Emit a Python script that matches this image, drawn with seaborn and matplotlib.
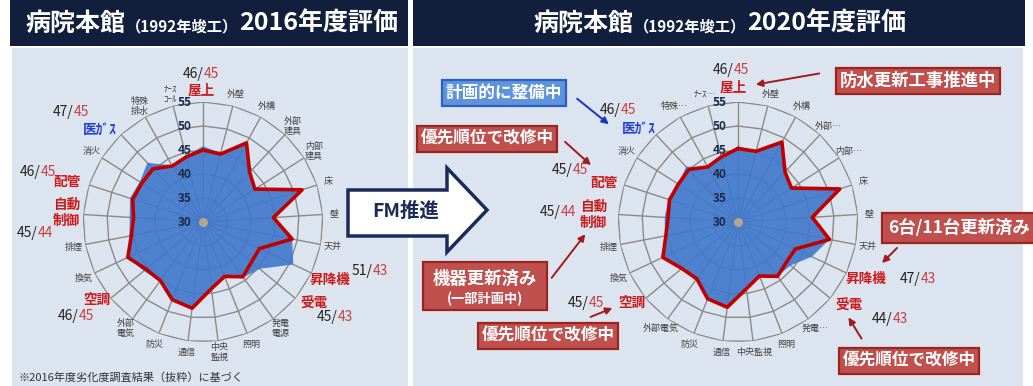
import numpy as np
import pandas as pd
import matplotlib
matplotlib.use("Agg")
import matplotlib.pyplot as plt
import seaborn as sns
from matplotlib.patches import Rectangle, Polygon, FancyArrowPatch

# ---------------- data ----------------
categories = ["屋上", "外壁", "外構", "外部建具", "内部建具", "床", "壁", "天井", "昇降機", "受電",
              "発電電源", "照明", "中央監視", "通信", "防災", "外部電気", "空調", "換気", "排煙",
              "自動制御", "配管", "消火", "医ガス", "特殊排水", "ナースコール"]
axis_labels_2016 = ["", "外壁", "外構", "外部\n建具", "内部\n建具", "床", "壁", "天井", "", "",
                    "発電\n電源", "照明", "中央\n監視", "通信", "防災", "外部\n電気", "", "換気", "排煙",
                    "", "", "消火", "", "特殊\n排水", "ﾅｰｽ\nｺｰﾙ"]
axis_labels_2020 = ["", "外壁", "外構", "外部…", "内部…", "床", "壁", "天井", "", "",
                    "発電…", "照明", "中央監視", "通信", "防災", "外部電気", "", "換気", "排煙",
                    "", "", "消火", "", "特殊…", "ﾅｰｽ…"]

eval_2016 = [45.8, 44.8, 48.8, 44.2, 42.8, 51.7, 44.7, 48.9, 50.8, 45.3, 44.3, 42.2, 44.0, 48.1, 47.4,
             45.3, 46.0, 47.3, 45.6, 45.3, 46.0, 45.6, 46.9, 43.5, 44.2]
std_2016 = [45.0, 44.6, 48.8, 44.2, 42.8, 51.7, 44.7, 48.9, 43.0, 43.1, 44.1, 42.2, 44.0, 48.1, 47.4,
            45.1, 45.4, 47.3, 45.2, 44.5, 45.4, 45.1, 45.2, 43.3, 44.0]
eval_2020 = [45.8, 45.3, 49.0, 44.3, 43.2, 52.3, 45.5, 49.4, 47.0, 44.2, 44.0, 42.1, 44.0, 47.9, 47.2,
             44.6, 45.3, 47.3, 45.5, 45.3, 45.2, 44.7, 45.8, 43.1, 44.0]
std_2020 = [45.3, 45.2, 49.0, 44.3, 43.2, 52.3, 45.5, 49.4, 43.2, 43.1, 44.0, 42.1, 44.0, 47.9, 47.2,
            44.6, 45.2, 47.3, 45.3, 44.6, 45.0, 44.7, 45.0, 43.1, 44.0]
r_ticks = [30, 35, 40, 45, 50, 55]

# highlighted items: label, evaluation, standard
hl_names = ["屋上", "医ｶﾞｽ", "配管", "自動\n制御", "空調", "昇降機", "受電"]
hl_eval_2016 = [46, 47, 46, 45, 46, 51, 45]
hl_std_2016 = [45, 45, 45, 44, 45, 43, 43]
hl_eval_2020 = [46, 46, 45, 45, 45, 47, 44]
hl_std_2020 = [45, 45, 45, 44, 45, 43, 43]

notes_text = ["計画的に整備中", "優先順位で改修中", "機器更新済み", "(一部計画中)", "優先順位で改修中",
              "防水更新工事推進中", "6台/11台更新済み", "優先順位で改修中"]

# ---------------- style ----------------
sns.set_theme(style="white")
plt.rcParams["font.family"] = ["Noto Sans CJK JP", "DejaVu Sans"]

W, H = 1033, 386
NAVY = "#111f3d"
PANEL = "#dce4f0"
GRID = "#8a8a8a"
BLUE = "#3f78cc"
RED_LINE = "#c00000"
RED_LBL = "#cc1a1a"
RED_NUM = "#c8403f"
BLUE_LBL = "#1f3fd0"
DARK = "#222222"
RED_BOX, RED_EDGE = "#c0504d", "#9b2320"

fig = plt.figure(figsize=(W / 100, H / 100), dpi=100)
fig.patch.set_facecolor("white")
renderer = fig.canvas.get_renderer()


def fx(x):
    return x / W


def fy(y):
    return 1 - y / H


def rect(x0, y0, x1, y1, **kw):
    r = Rectangle((fx(x0), fy(y1)), (x1 - x0) / W, (y1 - y0) / H, transform=fig.transFigure, **kw)
    fig.add_artist(r)
    return r


def txt(x, y, s, **kw):
    return fig.text(fx(x), fy(y), s, **kw)


def pair(x, y, a, b, size=10):
    t = txt(x, y, f"{a}/", color=DARK, fontsize=size, ha="left", va="center", zorder=6)
    bb = t.get_window_extent(renderer)
    fig.text(bb.x1 / fig.bbox.width, fy(y), f"{b}", color=RED_NUM, fontsize=size,
             ha="left", va="center", zorder=6)


def header(x0, y, parts):
    x = x0
    for s, size in parts:
        t = txt(x, y, s, color="white", fontsize=size, fontweight="bold", ha="left",
                va="baseline", zorder=6)
        bb = t.get_window_extent(renderer)
        x = bb.x1 * W / fig.bbox.width + 1


def arrow(x0, y0, x1, y1, color):
    a = FancyArrowPatch((fx(x0), fy(y0)), (fx(x1), fy(y1)), transform=fig.transFigure,
                        arrowstyle="-|>", mutation_scale=10, lw=1.4, color=color, zorder=7)
    fig.add_artist(a)


def note(x, y, s, fc, ec, size=12, ha="center"):
    txt(x, y, s, color="white", fontsize=size, fontweight="bold", ha=ha, va="center", zorder=8,
        bbox=dict(boxstyle="square,pad=0.22", fc=fc, ec=ec, lw=1.6))


# ---------------- backgrounds ----------------
rect(12, 48, 408, 386, fc=PANEL, ec="none", zorder=-10)
rect(413, 48, 1023, 386, fc=PANEL, ec="none", zorder=-10)
rect(10, 0, 408, 46, fc=NAVY, ec="none", zorder=-9)
rect(413, 0, 1025, 46, fc=NAVY, ec="none", zorder=-9)

header(25, 31, [("病院本館", 18), ("（1992年竣工）", 11), ("2016年度評価", 18)])
header(533, 31, [("病院本館", 18), ("（1992年竣工）", 11), ("2020年度評価", 18)])

txt(18, 378, "※2016年度劣化度調査結果（抜粋）に基づく", color="#333333", fontsize=8, ha="left",
    va="center")


# ---------------- radar charts ----------------
def radar(cx, cy, eva, std, labels):
    R = 120
    ax = fig.add_axes([(cx - R) / W, (H - cy - R) / H, 2 * R / W, 2 * R / H], projection="polar")
    ax.set_theta_zero_location("N")
    ax.set_theta_direction(-1)
    ax.set_axis_off()
    n = len(categories)
    theta = np.arange(n) * 2 * np.pi / n
    tc = np.append(theta, theta[0])
    for r in r_ticks[1:]:
        ax.plot(tc, [r] * (n + 1), color=GRID, lw=1.0, zorder=1)
    for t in theta:
        ax.plot([t, t], [r_ticks[0], r_ticks[-1]], color=GRID, lw=1.0, zorder=1)
    ax.fill(tc, np.append(eva, eva[0]), color=BLUE, alpha=0.9, lw=0, zorder=2)
    df = pd.DataFrame({"theta": tc, "value": np.append(std, std[0])})
    sns.lineplot(data=df, x="theta", y="value", sort=False, estimator=None, color=RED_LINE,
                 linewidth=2.6, ax=ax, zorder=3)
    ax.scatter([0], [r_ticks[0]], s=30, color="#b3a68e", zorder=4)
    for r in r_ticks:
        ax.annotate(str(r), (0, r), xytext=(-8, 0), textcoords="offset points", ha="right",
                    va="center", fontsize=8.5, fontweight="bold", color="#1c2b4a", zorder=5)
    for t, lab in zip(theta, labels):
        if lab:
            ax.text(t, 57.4, lab, ha="center", va="center", fontsize=6.5, color="#444444",
                    linespacing=1.1)
    ax.set_ylim(r_ticks[0], r_ticks[-1])
    ax.set_xlabel("")
    ax.set_ylabel("")
    return ax


radar(203, 222, eval_2016, std_2016, axis_labels_2016)
radar(738, 222, eval_2020, std_2020, axis_labels_2020)

# highlighted labels (layout positions)
name_pos_2016 = [(188, 91), (83, 130), (53, 182), (53, 213), (83, 300), (309, 280), (300, 304)]
val_pos_2016 = [(183, 74), (53, 112), (20, 172), (17, 233), (58, 316), (352, 271), (317, 317)]
name_pos_2020 = [(720, 88), (622, 129), (590, 183), (580, 215), (618, 303), (845, 279), (835, 306)]
val_pos_2020 = [(713, 70), (600, 110), (552, 170), (540, 212), (568, 303), (900, 279), (872, 319)]

for names, npos, vpos, ev, sd in [(hl_names, name_pos_2016, val_pos_2016, hl_eval_2016, hl_std_2016),
                                  (hl_names, name_pos_2020, val_pos_2020, hl_eval_2020, hl_std_2020)]:
    for nm, (nx, ny), (vx, vy), a, b in zip(names, npos, vpos, ev, sd):
        col = BLUE_LBL if nm.startswith("医") else RED_LBL
        txt(nx, ny, nm, color=col, fontsize=9.8, fontweight="bold", ha="left", va="center",
            linespacing=1.15, zorder=6)
        pair(vx, vy, a, b)

# ---------------- FM arrow ----------------
arrow_pts = [(348, 190), (447, 190), (447, 168), (487, 210), (447, 252), (447, 236), (348, 236)]
fig.add_artist(Polygon([(fx(x), fy(y)) for x, y in arrow_pts], closed=True, transform=fig.transFigure,
                       fc="white", ec="#1a2a5a", lw=2.5, zorder=4))
txt(406, 211, "FM推進", color="#1a2a5a", fontsize=14, fontweight="bold", ha="center", va="center",
    zorder=6)

# ---------------- notes ----------------
note(504, 93, notes_text[0], "#5f93dc", "#2f5fbf")
arrow(575, 97, 611, 126, "#1a33c8")
note(487, 139, notes_text[1], RED_BOX, RED_EDGE)
arrow(563, 140, 593, 167, "#a01c1c")

# two-line note with different text sizes
rect(423, 262, 547, 310, fc=RED_BOX, ec=RED_EDGE, lw=1.6, zorder=8)
txt(485, 279, notes_text[2], color="white", fontsize=12.5, fontweight="bold", ha="center",
    va="center", zorder=9)
txt(485, 299, notes_text[3], color="white", fontsize=9.5, fontweight="bold", ha="center",
    va="center", zorder=9)
arrow(550, 280, 587, 232, "#a01c1c")

note(548, 336, notes_text[4], RED_BOX, RED_EDGE)
arrow(588, 318, 615, 307, "#a01c1c")
note(918, 81, notes_text[5], RED_BOX, RED_EDGE, size=12.5)
arrow(822, 73, 753, 85, "#a01c1c")

# box running off the right edge (text kept inside the picture)
rect(882, 213, 1045, 243, fc=RED_BOX, ec=RED_EDGE, lw=1.6, zorder=8)
txt(888, 228, notes_text[6], color="white", fontsize=12.5, fontweight="bold", ha="left",
    va="center", zorder=9)
arrow(899, 246, 880, 265, "#a01c1c")

note(909, 361, notes_text[7], RED_BOX, RED_EDGE)
arrow(863, 341, 847, 315, "#a01c1c")

fig.savefig("out.png", dpi=100)
